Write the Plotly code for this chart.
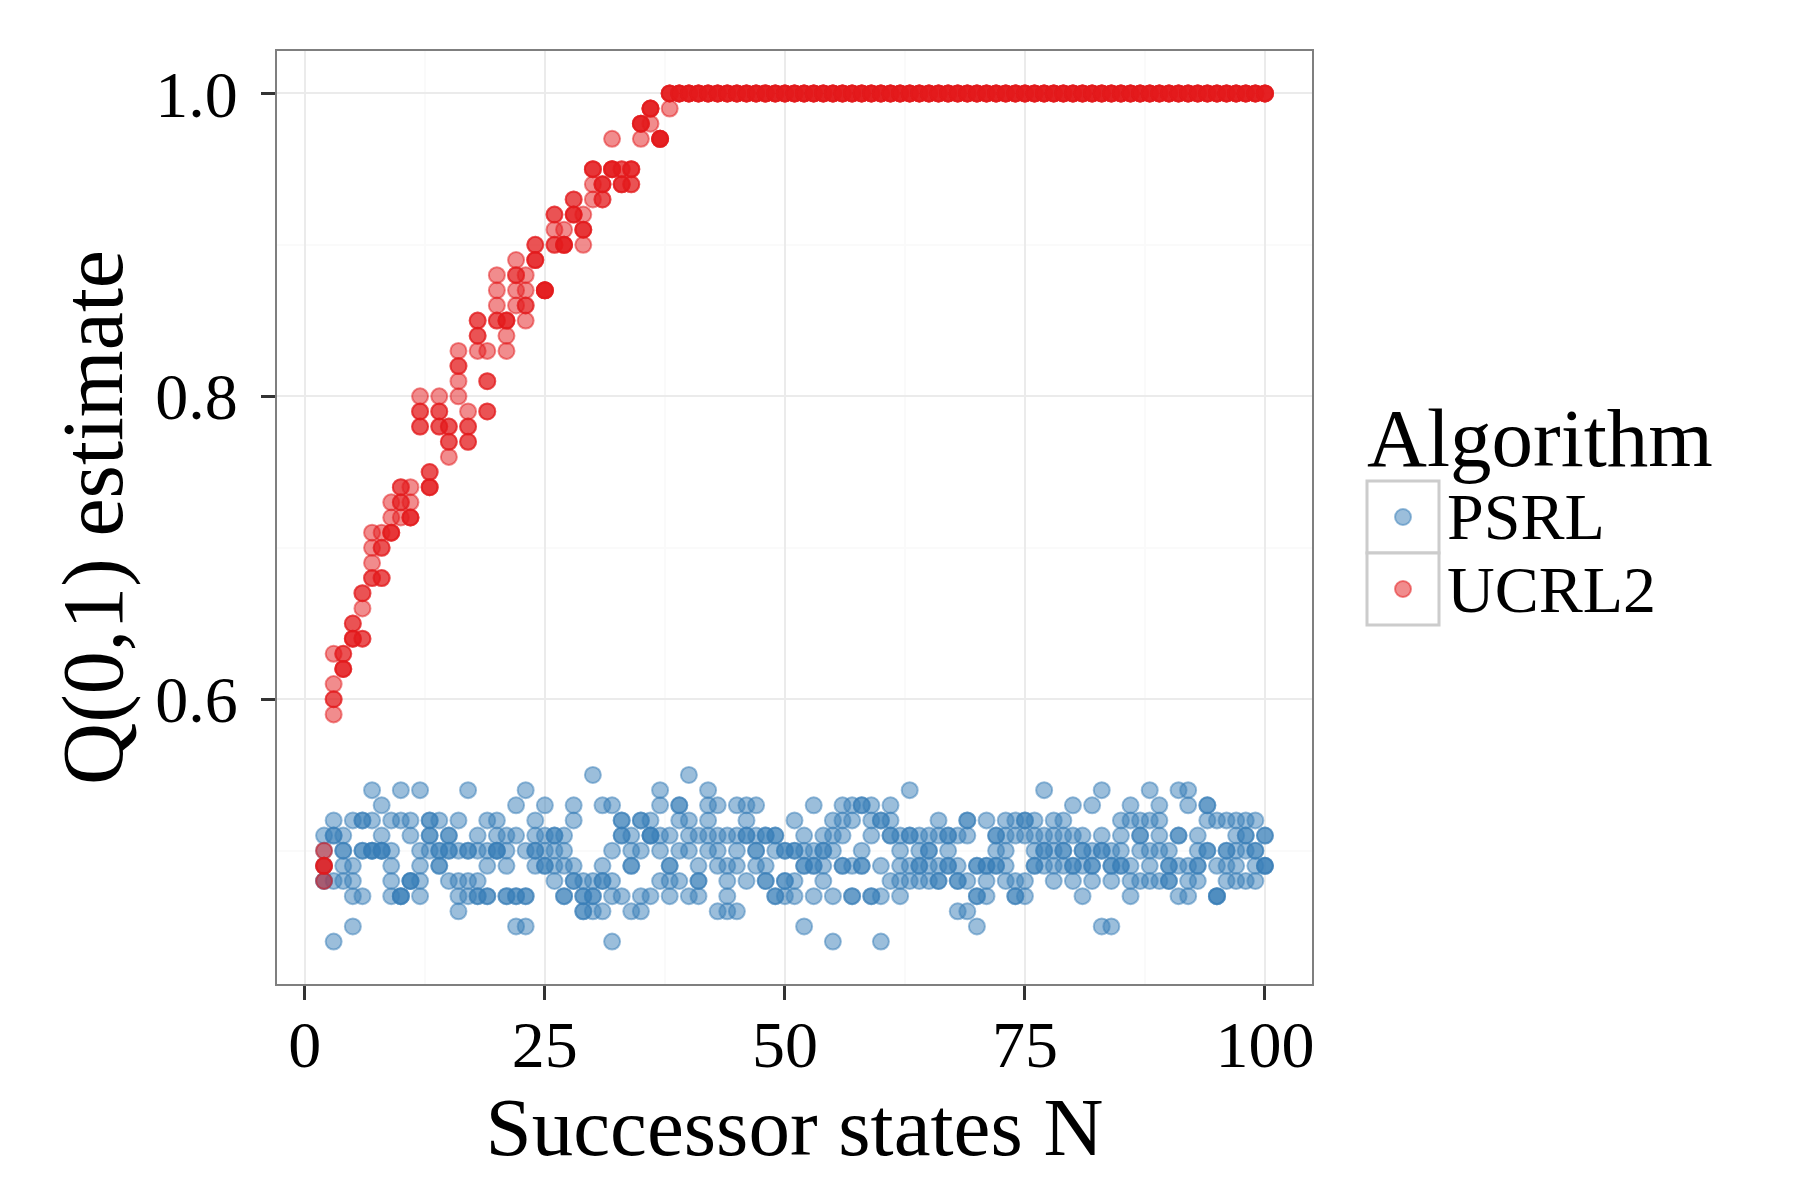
import plotly.graph_objects as go

# successor states N (x) and 5 runs per N for each algorithm
n_states = list(range(2, 101))

psrl_q = [
    [0.51, 0.50, 0.49, 0.48, 0.48], [0.52, 0.51, 0.51, 0.48, 0.44], [0.51, 0.50, 0.50, 0.49, 0.48],
    [0.52, 0.49, 0.48, 0.47, 0.45], [0.52, 0.52, 0.50, 0.50, 0.47], [0.54, 0.52, 0.50, 0.50, 0.50],
    [0.53, 0.51, 0.50, 0.50, 0.50], [0.52, 0.50, 0.49, 0.48, 0.47], [0.54, 0.52, 0.47, 0.47, 0.47],
    [0.52, 0.51, 0.48, 0.48, 0.48], [0.54, 0.50, 0.49, 0.48, 0.47], [0.52, 0.52, 0.51, 0.51, 0.50],
    [0.52, 0.50, 0.50, 0.49, 0.49], [0.51, 0.51, 0.50, 0.50, 0.48], [0.52, 0.50, 0.48, 0.47, 0.46],
    [0.54, 0.50, 0.50, 0.48, 0.47], [0.51, 0.50, 0.48, 0.47, 0.47], [0.52, 0.50, 0.49, 0.47, 0.47],
    [0.52, 0.51, 0.50, 0.50, 0.50], [0.51, 0.50, 0.49, 0.47, 0.47], [0.53, 0.51, 0.47, 0.47, 0.45],
    [0.54, 0.50, 0.47, 0.47, 0.45], [0.52, 0.51, 0.50, 0.50, 0.49], [0.53, 0.51, 0.50, 0.49, 0.49],
    [0.51, 0.51, 0.50, 0.49, 0.48], [0.51, 0.50, 0.49, 0.47, 0.47], [0.53, 0.52, 0.49, 0.48, 0.48],
    [0.48, 0.47, 0.47, 0.46, 0.46], [0.55, 0.48, 0.47, 0.47, 0.46], [0.53, 0.49, 0.48, 0.48, 0.46],
    [0.53, 0.50, 0.48, 0.47, 0.44], [0.52, 0.52, 0.51, 0.51, 0.47], [0.51, 0.50, 0.49, 0.49, 0.46],
    [0.52, 0.52, 0.50, 0.47, 0.46], [0.52, 0.51, 0.51, 0.51, 0.47], [0.54, 0.53, 0.51, 0.50, 0.48],
    [0.51, 0.49, 0.49, 0.48, 0.47], [0.53, 0.53, 0.52, 0.50, 0.48], [0.55, 0.52, 0.51, 0.50, 0.47],
    [0.51, 0.49, 0.48, 0.48, 0.47], [0.54, 0.53, 0.52, 0.51, 0.50], [0.53, 0.51, 0.50, 0.49, 0.46],
    [0.51, 0.49, 0.48, 0.47, 0.46], [0.53, 0.51, 0.50, 0.49, 0.46], [0.53, 0.52, 0.51, 0.51, 0.48],
    [0.53, 0.51, 0.50, 0.50, 0.49], [0.51, 0.51, 0.49, 0.48, 0.48], [0.51, 0.51, 0.50, 0.47, 0.47],
    [0.50, 0.50, 0.48, 0.48, 0.47], [0.52, 0.50, 0.50, 0.48, 0.47], [0.51, 0.50, 0.49, 0.49, 0.45],
    [0.53, 0.50, 0.49, 0.49, 0.47], [0.51, 0.50, 0.50, 0.49, 0.48], [0.52, 0.51, 0.50, 0.47, 0.44],
    [0.53, 0.52, 0.51, 0.49, 0.49], [0.53, 0.52, 0.49, 0.47, 0.47], [0.53, 0.53, 0.50, 0.49, 0.49],
    [0.53, 0.52, 0.51, 0.47, 0.47], [0.52, 0.52, 0.49, 0.47, 0.44], [0.53, 0.52, 0.51, 0.51, 0.48],
    [0.51, 0.50, 0.49, 0.48, 0.47], [0.54, 0.51, 0.51, 0.49, 0.48], [0.51, 0.50, 0.49, 0.49, 0.48],
    [0.51, 0.50, 0.50, 0.49, 0.48], [0.52, 0.51, 0.49, 0.48, 0.48], [0.51, 0.51, 0.50, 0.49, 0.49],
    [0.51, 0.49, 0.48, 0.48, 0.46], [0.52, 0.52, 0.51, 0.48, 0.46], [0.49, 0.49, 0.47, 0.47, 0.45],
    [0.52, 0.49, 0.49, 0.48, 0.47], [0.51, 0.51, 0.50, 0.49, 0.49], [0.52, 0.51, 0.50, 0.49, 0.48],
    [0.52, 0.51, 0.48, 0.47, 0.47], [0.52, 0.52, 0.51, 0.48, 0.47], [0.52, 0.51, 0.50, 0.49, 0.49],
    [0.54, 0.51, 0.50, 0.50, 0.49], [0.52, 0.51, 0.50, 0.49, 0.48], [0.52, 0.51, 0.50, 0.50, 0.49],
    [0.53, 0.51, 0.49, 0.49, 0.48], [0.51, 0.50, 0.50, 0.49, 0.47], [0.53, 0.50, 0.49, 0.49, 0.48],
    [0.54, 0.51, 0.50, 0.50, 0.45], [0.50, 0.49, 0.49, 0.48, 0.45], [0.52, 0.51, 0.50, 0.49, 0.49],
    [0.53, 0.52, 0.49, 0.48, 0.47], [0.52, 0.51, 0.51, 0.50, 0.48], [0.54, 0.52, 0.50, 0.49, 0.48],
    [0.53, 0.52, 0.51, 0.50, 0.48], [0.50, 0.49, 0.49, 0.48, 0.48], [0.54, 0.51, 0.51, 0.49, 0.47],
    [0.54, 0.53, 0.49, 0.48, 0.47], [0.51, 0.50, 0.49, 0.49, 0.48], [0.53, 0.53, 0.52, 0.50, 0.50],
    [0.52, 0.49, 0.47, 0.47, 0.47], [0.52, 0.50, 0.50, 0.49, 0.48], [0.52, 0.51, 0.50, 0.49, 0.48],
    [0.52, 0.51, 0.51, 0.50, 0.48], [0.52, 0.50, 0.50, 0.49, 0.48], [0.51, 0.51, 0.49, 0.49, 0.49],
]

ucrl2_q = [
    [0.50, 0.49, 0.49, 0.49, 0.48], [0.63, 0.61, 0.60, 0.60, 0.59], [0.63, 0.63, 0.62, 0.62, 0.62],
    [0.65, 0.65, 0.64, 0.64, 0.64], [0.67, 0.67, 0.66, 0.64, 0.64], [0.71, 0.70, 0.69, 0.68, 0.68],
    [0.71, 0.70, 0.70, 0.68, 0.68], [0.73, 0.72, 0.71, 0.71, 0.71], [0.74, 0.74, 0.73, 0.73, 0.72],
    [0.74, 0.73, 0.72, 0.72, 0.72], [0.80, 0.79, 0.79, 0.78, 0.78], [0.75, 0.75, 0.74, 0.74, 0.74],
    [0.80, 0.79, 0.79, 0.78, 0.78], [0.78, 0.78, 0.77, 0.77, 0.76], [0.83, 0.82, 0.82, 0.81, 0.80],
    [0.79, 0.78, 0.78, 0.77, 0.77], [0.85, 0.85, 0.84, 0.84, 0.83], [0.83, 0.81, 0.81, 0.79, 0.79],
    [0.88, 0.87, 0.86, 0.85, 0.85], [0.85, 0.85, 0.85, 0.84, 0.83], [0.89, 0.88, 0.88, 0.87, 0.86],
    [0.88, 0.87, 0.86, 0.86, 0.85], [0.90, 0.90, 0.89, 0.89, 0.89], [0.87, 0.87, 0.87, 0.87, 0.87],
    [0.92, 0.92, 0.91, 0.90, 0.90], [0.91, 0.90, 0.90, 0.90, 0.90], [0.93, 0.93, 0.92, 0.92, 0.92],
    [0.92, 0.91, 0.91, 0.91, 0.90], [0.95, 0.95, 0.95, 0.94, 0.93], [0.94, 0.94, 0.94, 0.93, 0.93],
    [0.97, 0.95, 0.95, 0.95, 0.95], [0.95, 0.95, 0.94, 0.94, 0.94], [0.95, 0.95, 0.95, 0.94, 0.94],
    [0.98, 0.98, 0.98, 0.98, 0.97], [0.99, 0.99, 0.99, 0.99, 0.98], [0.97, 0.97, 0.97, 0.97, 0.97],
    [1.00, 1.00, 1.00, 1.00, 0.99],
    [1.00, 1.00, 1.00, 1.00, 1.00], [1.00, 1.00, 1.00, 1.00, 1.00], [1.00, 1.00, 1.00, 1.00, 1.00],
    [1.00, 1.00, 1.00, 1.00, 1.00], [1.00, 1.00, 1.00, 1.00, 1.00], [1.00, 1.00, 1.00, 1.00, 1.00],
    [1.00, 1.00, 1.00, 1.00, 1.00], [1.00, 1.00, 1.00, 1.00, 1.00], [1.00, 1.00, 1.00, 1.00, 1.00],
    [1.00, 1.00, 1.00, 1.00, 1.00], [1.00, 1.00, 1.00, 1.00, 1.00], [1.00, 1.00, 1.00, 1.00, 1.00],
    [1.00, 1.00, 1.00, 1.00, 1.00], [1.00, 1.00, 1.00, 1.00, 1.00], [1.00, 1.00, 1.00, 1.00, 1.00],
    [1.00, 1.00, 1.00, 1.00, 1.00], [1.00, 1.00, 1.00, 1.00, 1.00], [1.00, 1.00, 1.00, 1.00, 1.00],
    [1.00, 1.00, 1.00, 1.00, 1.00], [1.00, 1.00, 1.00, 1.00, 1.00], [1.00, 1.00, 1.00, 1.00, 1.00],
    [1.00, 1.00, 1.00, 1.00, 1.00], [1.00, 1.00, 1.00, 1.00, 1.00], [1.00, 1.00, 1.00, 1.00, 1.00],
    [1.00, 1.00, 1.00, 1.00, 1.00], [1.00, 1.00, 1.00, 1.00, 1.00], [1.00, 1.00, 1.00, 1.00, 1.00],
    [1.00, 1.00, 1.00, 1.00, 1.00], [1.00, 1.00, 1.00, 1.00, 1.00], [1.00, 1.00, 1.00, 1.00, 1.00],
    [1.00, 1.00, 1.00, 1.00, 1.00], [1.00, 1.00, 1.00, 1.00, 1.00], [1.00, 1.00, 1.00, 1.00, 1.00],
    [1.00, 1.00, 1.00, 1.00, 1.00], [1.00, 1.00, 1.00, 1.00, 1.00], [1.00, 1.00, 1.00, 1.00, 1.00],
    [1.00, 1.00, 1.00, 1.00, 1.00], [1.00, 1.00, 1.00, 1.00, 1.00], [1.00, 1.00, 1.00, 1.00, 1.00],
    [1.00, 1.00, 1.00, 1.00, 1.00], [1.00, 1.00, 1.00, 1.00, 1.00], [1.00, 1.00, 1.00, 1.00, 1.00],
    [1.00, 1.00, 1.00, 1.00, 1.00], [1.00, 1.00, 1.00, 1.00, 1.00], [1.00, 1.00, 1.00, 1.00, 1.00],
    [1.00, 1.00, 1.00, 1.00, 1.00], [1.00, 1.00, 1.00, 1.00, 1.00], [1.00, 1.00, 1.00, 1.00, 1.00],
    [1.00, 1.00, 1.00, 1.00, 1.00], [1.00, 1.00, 1.00, 1.00, 1.00], [1.00, 1.00, 1.00, 1.00, 1.00],
    [1.00, 1.00, 1.00, 1.00, 1.00], [1.00, 1.00, 1.00, 1.00, 1.00], [1.00, 1.00, 1.00, 1.00, 1.00],
    [1.00, 1.00, 1.00, 1.00, 1.00], [1.00, 1.00, 1.00, 1.00, 1.00], [1.00, 1.00, 1.00, 1.00, 1.00],
    [1.00, 1.00, 1.00, 1.00, 1.00], [1.00, 1.00, 1.00, 1.00, 1.00], [1.00, 1.00, 1.00, 1.00, 1.00],
    [1.00, 1.00, 1.00, 1.00, 1.00], [1.00, 1.00, 1.00, 1.00, 1.00],
]

algorithms = ["PSRL", "UCRL2"]
colors = ["#377EB8", "#E41A1C"]
x_ticks = [0, 25, 50, 75, 100]
y_ticks = [0.6, 0.8, 1.0]
y_ticktext = ["0.6", "0.8", "1.0"]

FONT = "Liberation Serif"


def rgba(hex_color, a):
    h = hex_color.lstrip("#")
    return "rgba(%d,%d,%d,%s)" % (int(h[0:2], 16), int(h[2:4], 16), int(h[4:6], 16), a)


def flatten(rows):
    xs, ys = [], []
    for n, row in zip(n_states, rows):
        for v in row:
            xs.append(n)
            ys.append(v)
    return xs, ys


fig = go.Figure()

for name, rows, col in zip(algorithms, [psrl_q, ucrl2_q], colors):
    xs, ys = flatten(rows)
    fig.add_trace(go.Scatter(
        x=xs, y=ys, mode="markers", name=name,
        marker=dict(size=16, color=rgba(col, 0.5),
                    line=dict(color=rgba(col, 0.5), width=2)),
        showlegend=False))

# panel geometry in pixels (used for the ggplot style legend)
W, H = 1800, 1200
L, R, T, B = 269, 1304, 43, 976


def px(xp):
    return (xp - L) / (R - L)


def py(yp):
    return (B - yp) / (B - T)


shapes = []
annotations = []

# legend keys: grey bordered boxes with a dot, label to the right
key_left, key_right = 1359, 1431
key_tops = [473, 545]
key_h = 72
for i, (name, col) in enumerate(zip(algorithms, colors)):
    top = key_tops[i]
    shapes.append(dict(type="rect", xref="paper", yref="paper",
                       x0=px(key_left), x1=px(key_right),
                       y0=py(top + key_h), y1=py(top),
                       line=dict(color="#CCCCCC", width=3), fillcolor="white", layer="above"))
    cx, cy = (key_left + key_right) / 2, top + key_h / 2
    shapes.append(dict(type="circle", xref="paper", yref="paper",
                       x0=px(cx - 8), x1=px(cx + 8), y0=py(cy + 8), y1=py(cy - 8),
                       line=dict(color=rgba(col, 0.5), width=2),
                       fillcolor=rgba(col, 0.5), layer="above"))
    annotations.append(dict(text=name, xref="paper", yref="paper",
                            x=px(1437), y=py(cy), xanchor="left", yanchor="middle",
                            showarrow=False, font=dict(family=FONT, size=66, color="black")))

annotations.append(dict(text="Algorithm", xref="paper", yref="paper",
                        x=px(1357), y=py(430), xanchor="left", yanchor="middle",
                        showarrow=False, font=dict(family=FONT, size=83, color="black")))

fig.update_layout(
    width=W, height=H,
    margin=dict(l=L, r=W - R, t=T, b=H - B),
    plot_bgcolor="white", paper_bgcolor="white",
    font=dict(family=FONT, color="black"),
    shapes=shapes, annotations=annotations,
    showlegend=False,
)

fig.update_xaxes(
    range=[-2.9, 104.9], tickvals=x_ticks, ticktext=[str(t) for t in x_ticks],
    showgrid=True, gridcolor="#EBEBEB", gridwidth=2, zeroline=False,
    minor=dict(tickvals=[12.5, 37.5, 62.5, 87.5], showgrid=True, gridcolor="#FAFAFA", gridwidth=2),
    showline=True, mirror=True, linecolor="#7F7F7F", linewidth=2,
    ticks="outside", ticklen=14, tickwidth=3, tickcolor="#333333",
    ticklabelstandoff=-12,
    tickfont=dict(family=FONT, size=66, color="black"),
    title=dict(text="Successor states N", font=dict(family=FONT, size=83, color="black"), standoff=16),
)

fig.update_yaxes(
    range=[0.412, 1.028], tickvals=y_ticks, ticktext=y_ticktext,
    showgrid=True, gridcolor="#EBEBEB", gridwidth=2, zeroline=False,
    minor=dict(tickvals=[0.5, 0.7, 0.9], showgrid=True, gridcolor="#FAFAFA", gridwidth=2),
    showline=True, mirror=True, linecolor="#7F7F7F", linewidth=2,
    ticks="outside", ticklen=14, tickwidth=3, tickcolor="#333333",
    ticklabelstandoff=10,
    tickfont=dict(family=FONT, size=66, color="black"),
    title=dict(text="Q(0,1) estimate", font=dict(family=FONT, size=86, color="black"), standoff=4),
)

fig.write_html("out.html")
